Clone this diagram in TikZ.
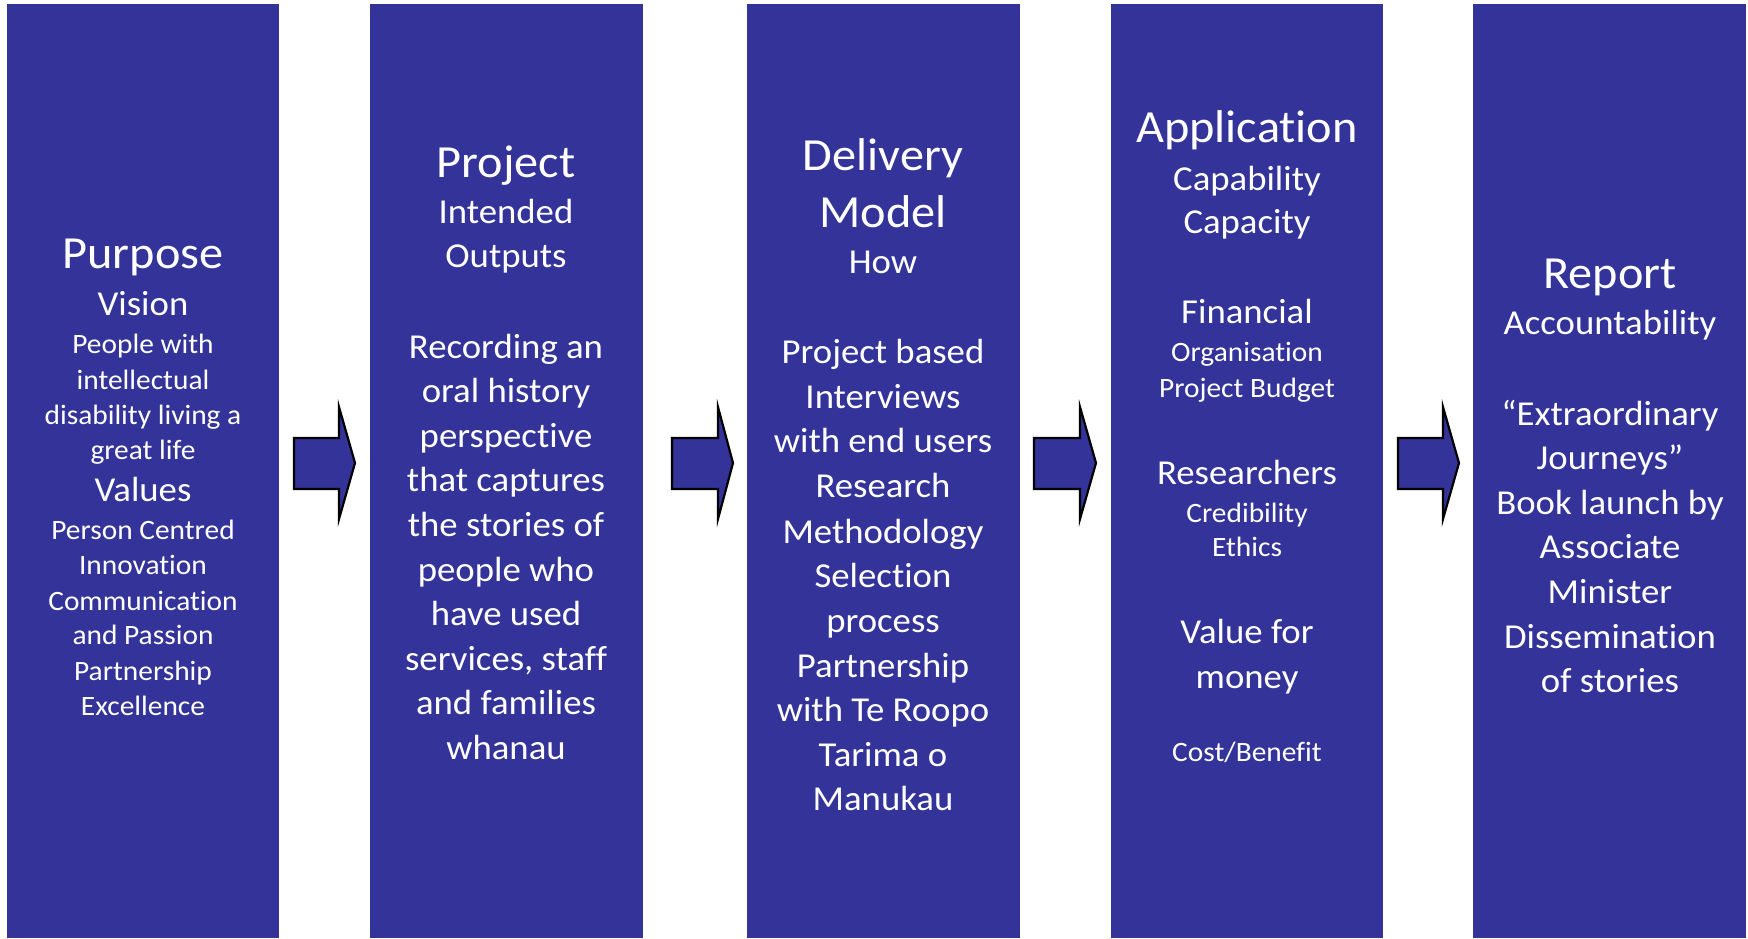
\documentclass[tikz,border=0pt]{standalone}
\usepackage{fontspec}
\setmainfont[Ligatures=NoCommon, FakeStretch=1.05]{Carlito}
\definecolor{colblue}{RGB}{51,51,153}
\tikzset{
  colbox/.style={fill=colblue, draw=none},
  blockarrow/.style={fill=colblue, draw=black, line width=2.2pt, line join=miter},
  txt/.style={text=white, anchor=base, inner sep=0pt},
  big/.style={txt, font=\fontsize{46}{55}\selectfont},
  mid/.style={txt, font=\fontsize{35}{42}\selectfont},
  small/.style={txt, font=\fontsize{28}{34}\selectfont},
}
\begin{document}
\begin{tikzpicture}[x=1pt,y=-1pt]
\useasboundingbox (0,0) rectangle (1748,938);
% columns
\fill[colbox] (7,4) rectangle (279,938);
\fill[colbox] (370,4) rectangle (643,938);
\fill[colbox] (747,4) rectangle (1020,938);
\fill[colbox] (1111,4) rectangle (1383,938);
\fill[colbox] (1473,4) rectangle (1746,938);
% block arrows
\draw[blockarrow] (294,438) -- (339,438) -- (339,407) -- (355,463) -- (339,519) -- (339,489) -- (294,489) -- cycle;
\draw[blockarrow] (672,438) -- (718,438) -- (718,407) -- (733,463) -- (718,519) -- (718,489) -- (672,489) -- cycle;
\draw[blockarrow] (1034,438) -- (1080,438) -- (1080,407) -- (1096,463) -- (1080,519) -- (1080,489) -- (1034,489) -- cycle;
\draw[blockarrow] (1398,438) -- (1443,438) -- (1443,407) -- (1459,463) -- (1443,519) -- (1443,489) -- (1398,489) -- cycle;
% column 1
\node[big] (a1) at (143,268) {Purpose};
\node[mid] (a2) at (143,315) {Vision};
\node[small] (a3) at (143,353) {People with};
\node[small] (a4) at (143,389) {intellectual};
\node[small] (a5) at (143,424) {disability living a};
\node[small] (a6) at (143,459) {great life};
\node[mid] (a7) at (143,501) {Values};
\node[small] (a8) at (143,539) {Person Centred};
\node[small] (a9) at (143,574) {Innovation};
\node[small] (a10) at (143,610) {Communication};
\node[small] (a11) at (143,644) {and Passion};
\node[small] (a12) at (143,680) {Partnership};
\node[small] (a13) at (143,715) {Excellence};
% column 2
\node[big] (b1) at (506,177) {Project};
\node[mid] (b2) at (506,223) {Intended};
\node[mid] (b3) at (506,267) {Outputs};
\node[mid] (b4) at (506,358) {Recording an};
\node[mid] (b5) at (506,402) {oral history};
\node[mid] (b6) at (506,447) {perspective};
\node[mid] (b7) at (506,491) {that captures};
\node[mid] (b8) at (506,536) {the stories of};
\node[mid] (b9) at (506,581) {people who};
\node[mid] (b10) at (506,625) {have used};
\node[mid] (b11) at (506,670) {services, staff};
\node[mid] (b12) at (506,714) {and families};
\node[mid] (b13) at (506,759) {whanau};
% column 3
\node[big] (c1) at (883,170) {Delivery};
\node[big] (c2) at (883,227) {Model};
\node[mid] (c3) at (883,273) {How};
\node[mid] (c4) at (883,363) {Project based};
\node[mid] (c5) at (883,408) {Interviews};
\node[mid] (c6) at (883,452) {with end users};
\node[mid] (c7) at (883,497) {Research};
\node[mid] (c8) at (883,543) {Methodology};
\node[mid] (c9) at (883,587) {Selection};
\node[mid] (c10) at (883,632) {process};
\node[mid] (c11) at (883,677) {Partnership};
\node[mid] (c12) at (883,721) {with Te Roopo};
\node[mid] (c13) at (883,766) {Tarima o};
\node[mid] (c14) at (883,810) {Manukau};
% column 4
\node[big] (d1) at (1247,142) {Application};
\node[mid] (d2) at (1247,190) {Capability};
\node[mid] (d3) at (1247,233) {Capacity};
\node[mid] (d4) at (1247,323) {Financial};
\node[small] (d5) at (1247,361) {Organisation};
\node[small] (d6) at (1247,397) {Project Budget};
\node[mid] (d7) at (1247,484) {Researchers};
\node[small] (d8) at (1247,522) {Credibility};
\node[small] (d9) at (1247,556) {Ethics};
\node[mid] (d10) at (1247,643) {Value for};
\node[mid] (d11) at (1247,688) {money};
\node[small] (d12) at (1247,761) {Cost/Benefit};
% column 5
\node[big] (e1) at (1610,288) {Report};
\node[mid] (e2) at (1610,334) {Accountability};
\node[mid] (e3) at (1610,425) {“Extraordinary};
\node[mid] (e4) at (1610,469) {Journeys”};
\node[mid] (e5) at (1610,514) {Book launch by};
\node[mid] (e6) at (1610,558) {Associate};
\node[mid] (e7) at (1610,603) {Minister};
\node[mid] (e8) at (1610,648) {Dissemination};
\node[mid] (e9) at (1610,692) {of stories};
\end{tikzpicture}
\end{document}
